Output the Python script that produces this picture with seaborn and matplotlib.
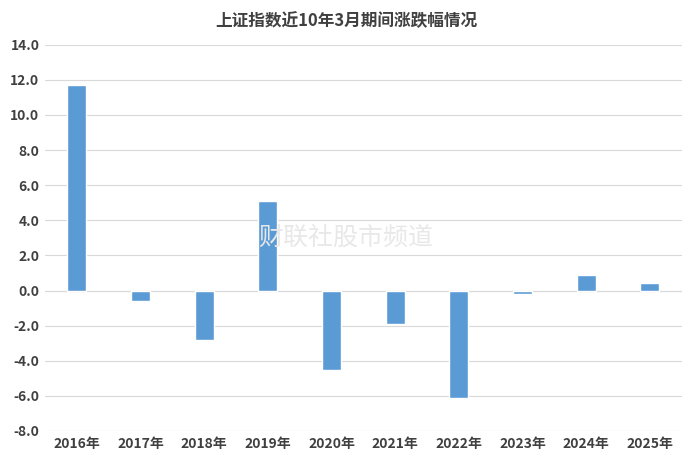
import matplotlib
matplotlib.use("Agg")
import matplotlib.pyplot as plt
import seaborn as sns
import pandas as pd

years = ["2016年","2017年","2018年","2019年","2020年","2021年","2022年","2023年","2024年","2025年"]
values = [11.7, -0.6, -2.8, 5.1, -4.5, -1.9, -6.1, -0.2, 0.9, 0.45]
yticks = [-8,-6,-4,-2,0,2,4,6,8,10,12,14]

sns.set_theme(style="white")
plt.rcParams['font.family'] = ['Noto Sans CJK SC', 'DejaVu Sans']

df = pd.DataFrame({"year": years, "value": values})
fig = plt.figure(figsize=(6.92, 4.71), dpi=100)
ax = fig.add_axes([0.065, 0.085, 0.92, 0.82])
sns.barplot(data=df, x="year", y="value", color="#5B9BD5", saturation=1, width=0.3, ax=ax)
ax.set_ylim(-8, 14)
ax.set_yticks(yticks)
ax.set_yticklabels([f"{v:.1f}" for v in yticks], fontsize=10, fontweight="bold", color="#404040")
ax.set_xticks(range(len(years)))
ax.set_xticklabels(years, fontsize=10, fontweight="bold", color="#404040")
ax.tick_params(axis="both", length=0, pad=4)
ax.set_xlabel(""); ax.set_ylabel("")
ax.grid(axis="y", color="#D9D9D9", linewidth=0.8)
ax.set_axisbelow(True)
for s in ax.spines.values():
    s.set_visible(False)
ax.axhline(0, color="#D9D9D9", linewidth=0.8, zorder=0)
fig.suptitle("上证指数近10年3月期间涨跌幅情况", y=0.975, fontsize=12, fontweight="bold", color="#404040")
fig.text(0.5, 0.495, "财联社股市频道", fontsize=18, color="#E8E8E8", ha="center", va="center", zorder=0)
fig.savefig("out.png", dpi=100, facecolor="white")
